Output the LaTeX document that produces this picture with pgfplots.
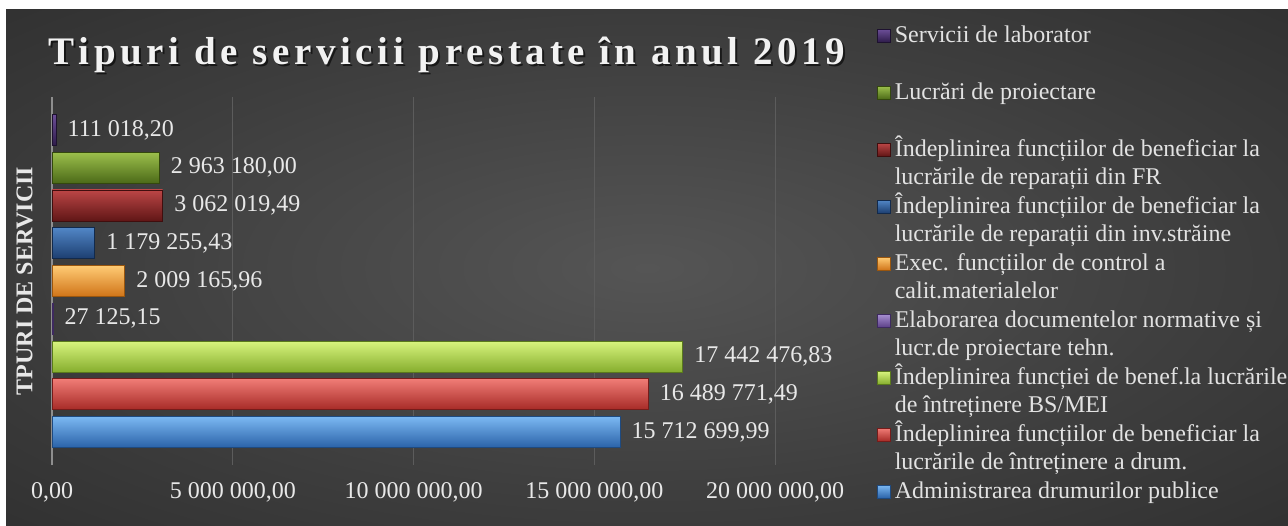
\documentclass[border=0pt]{standalone}
\usepackage{fontspec}
\setmainfont{Liberation Serif}
\newfontfamily\titlefont[LetterSpace=12]{Liberation Serif}
\usepackage{pgfplots}
\pgfplotsset{compat=1.18}

\definecolor{txt}{HTML}{E8E8E8}
\definecolor{legtxt}{HTML}{E2E2E2}
\definecolor{gridgray}{HTML}{5C5C5C}
\definecolor{axgray}{HTML}{8E8E8E}
\definecolor{bgin}{HTML}{555555}
\definecolor{bgmid}{HTML}{3E3E3E}
\definecolor{bgout}{HTML}{242424}

% bar colours: light / mid / dark / edge
\definecolor{bluL}{HTML}{7BB8F2}\definecolor{bluM}{HTML}{4A8FDA}\definecolor{bluD}{HTML}{2A62A8}\definecolor{bluE}{HTML}{1E4A80}
\definecolor{redL}{HTML}{F07C76}\definecolor{redM}{HTML}{D6423D}\definecolor{redD}{HTML}{A62A26}\definecolor{redE}{HTML}{761C1A}
\definecolor{limL}{HTML}{D8F47E}\definecolor{limM}{HTML}{B0D84E}\definecolor{limD}{HTML}{86AE2E}\definecolor{limE}{HTML}{5A7A1C}
\definecolor{purL}{HTML}{A890D2}\definecolor{purM}{HTML}{8062B0}\definecolor{purD}{HTML}{5C4088}\definecolor{purE}{HTML}{3E2A60}
\definecolor{orL}{HTML}{FFCB74}\definecolor{orM}{HTML}{F8982C}\definecolor{orD}{HTML}{D07418}\definecolor{orE}{HTML}{9A560E}
\definecolor{dbL}{HTML}{5186C6}\definecolor{dbM}{HTML}{2C5C9C}\definecolor{dbD}{HTML}{1C3E70}\definecolor{dbE}{HTML}{122A4C}
\definecolor{drL}{HTML}{BC4646}\definecolor{drM}{HTML}{8E2424}\definecolor{drD}{HTML}{601616}\definecolor{drE}{HTML}{400E0E}
\definecolor{olL}{HTML}{9CC04C}\definecolor{olM}{HTML}{6E9228}\definecolor{olD}{HTML}{4C6A18}\definecolor{olE}{HTML}{34480E}
\definecolor{dpL}{HTML}{6C4E98}\definecolor{dpM}{HTML}{48306E}\definecolor{dpD}{HTML}{2E1C4A}\definecolor{dpE}{HTML}{1E1230}

\pgfdeclareradialshading{bgshade}{\pgfpoint{0bp}{0bp}}{color(0bp)=(bgin); color(22bp)=(bgmid); color(50bp)=(bgout)}

\newcommand\lbl{\fontsize{24bp}{28.5bp}\selectfont}
\newcommand\ls{\rule[-8.5bp]{0pt}{28.5bp}}
\newcommand\legtext[1]{\parbox[t]{400bp}{\baselineskip=28.5bp #1}}

\pgfplotsset{
  bar3d/.style n args={4}{top color=#1, middle color=#2, bottom color=#3, draw=#4},
}

\begin{document}
\begin{tikzpicture}
\useasboundingbox (0,0) rectangle (1288bp,526bp);
\fill[white] (0,0) rectangle (1288bp,526bp);
\shade[shading=bgshade] (6bp,0) rectangle (1288bp,516bp);

\node[anchor=base, text=black, opacity=0.6] at (449bp,459bp)
  {\titlefont\bfseries\fontsize{39bp}{44bp}\selectfont Tipuri de servicii prestate în anul 2019};
\node[anchor=base, text=white!95!black] at (447bp,461bp)
  {\titlefont\bfseries\fontsize{39bp}{44bp}\selectfont Tipuri de servicii prestate în anul 2019};

\begin{axis}[
  at={(52bp,61bp)}, anchor=south west,
  scale only axis, width=723bp, height=368bp,
  xmin=0, xmax=20000000, ymin=-0.87, ymax=8.87,
  xbar, bar width=31bp, bar shift=0pt,
  axis lines*=left,
  x axis line style={draw=none},
  y axis line style={-, draw=axgray, line width=1.6bp},
  xtick={0,5000000,10000000,15000000,20000000},
  xticklabels={{0,00},{5 000 000,00},{10 000 000,00},{15 000 000,00},{20 000 000,00}},
  ytick=\empty,
  xmajorgrids, major grid style={draw=gridgray, line width=1bp},
  major tick length=0pt,
  scaled x ticks=false,
  xticklabel style={font=\lbl, text=txt, yshift=-14bp},
  ylabel={TPURI DE SERVICII},
  ylabel style={at={(axis description cs:-0.038,0.5)}, anchor=center, font=\bfseries\lbl, text=txt},
  point meta=explicit symbolic,
  nodes near coords={\pgfplotspointmeta},
  every node near coord/.append style={anchor=west, xshift=8bp, font=\lbl, text=txt},
  every axis plot post/.append style={bar shift=0pt, line width=0.8bp,
    legend image code/.code={\draw[##1, line width=0.6bp] (0bp,0bp) rectangle (13bp,13bp);}},
  reverse legend,
  legend cell align=left,
  legend style={at={(1.1411,1.2038)}, anchor=north west, draw=none, fill=none,
    inner sep=0pt, row sep=0pt, column sep=4bp, font=\lbl, text=legtxt,
    cells={anchor=base west},
    nodes={anchor=base west, inner sep=0pt, text height=20bp, text depth=37bp}},
]
\addplot[bar3d={bluL}{bluM}{bluD}{bluE}] coordinates {(15712699.99,0) [15 712 699,99]};
\addlegendentry{\legtext{\ls Administrarea drumurilor publice}}
\addplot[bar3d={redL}{redM}{redD}{redE}] coordinates {(16489771.49,1) [16 489 771,49]};
\addlegendentry{\legtext{\ls Îndeplinirea funcțiilor de beneficiar la\\\ls lucrările de întreținere a drum.}}
\addplot[bar3d={limL}{limM}{limD}{limE}] coordinates {(17442476.83,2) [17 442 476,83]};
\addlegendentry{\legtext{\ls Îndeplinirea funcției de benef.la lucrările\\\ls de întreținere BS/MEI}}
\addplot[bar3d={purL}{purM}{purD}{purE}] coordinates {(27125.15,3) [27 125,15]};
\addlegendentry{\legtext{\ls Elaborarea documentelor normative și\\\ls lucr.de proiectare tehn.}}
\addplot[bar3d={orL}{orM}{orD}{orE}] coordinates {(2009165.96,4) [2 009 165,96]};
\addlegendentry{\legtext{\ls Exec. funcțiilor de control a\\\ls calit.materialelor}}
\addplot[bar3d={dbL}{dbM}{dbD}{dbE}] coordinates {(1179255.43,5) [1 179 255,43]};
\addlegendentry{\legtext{\ls Îndeplinirea funcțiilor de beneficiar la\\\ls lucrările de reparații din inv.străine}}
\addplot[bar3d={drL}{drM}{drD}{drE}] coordinates {(3062019.49,6) [3 062 019,49]};
\addlegendentry{\legtext{\ls Îndeplinirea funcțiilor de beneficiar la\\\ls lucrările de reparații din FR}}
\addplot[bar3d={olL}{olM}{olD}{olE}] coordinates {(2963180.00,7) [2 963 180,00]};
\addlegendentry{\legtext{\ls Lucrări de proiectare\\\ls}}
\addplot[bar3d={dpL}{dpM}{dpD}{dpE}] coordinates {(111018.20,8) [111 018,20]};
\addlegendentry{\legtext{\ls Servicii de laborator\\\ls}}
\end{axis}
\end{tikzpicture}
\end{document}
